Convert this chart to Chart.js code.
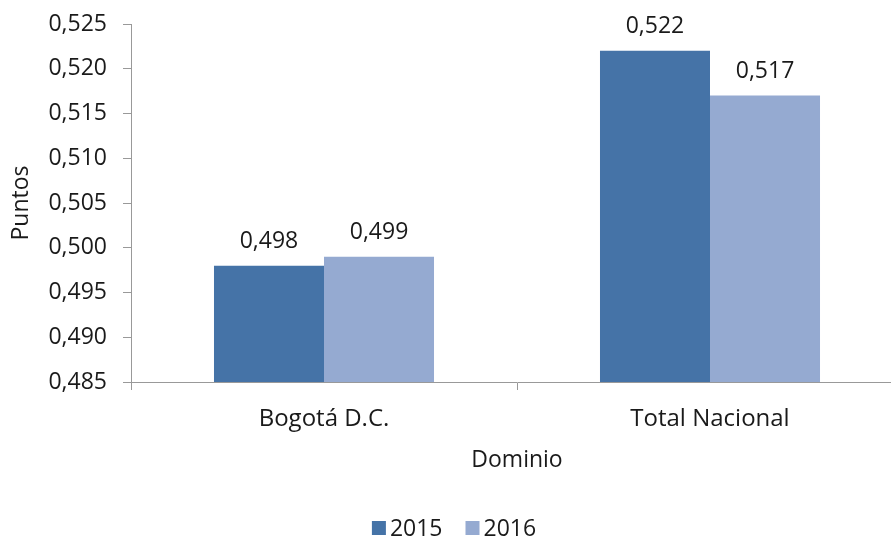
<!DOCTYPE html>
<html>
<head>
<meta charset="utf-8">
<script src="https://cdn.jsdelivr.net/npm/chart.js@4/dist/chart.umd.min.js"></script>
<style>
  html, body { margin: 0; padding: 0; background: #fff; overflow: hidden; }
  #wrap { width: 905px; height: 540px; }
</style>
</head>
<body>
<div id="wrap"><canvas id="chart"></canvas></div>
<script>
const categories = ["Bogotá D.C.", "Total Nacional"];
const seriesNames = ["2015", "2016"];
const values2015 = [0.498, 0.522];
const values2016 = [0.499, 0.517];
const colors = ["#4573a7", "#95aad1"];

const fmt = (v) => v.toFixed(3).replace(".", ",");
const FONT = "23px 'Open Sans'";

// draws the value above every bar
const valueLabels = {
  id: "valueLabels",
  afterDatasetsDraw(chart) {
    const ctx = chart.ctx;
    ctx.save();
    ctx.font = FONT;
    ctx.fillStyle = "#1a1a1a";
    ctx.textAlign = "center";
    ctx.textBaseline = "alphabetic";
    chart.data.datasets.forEach((ds, i) => {
      chart.getDatasetMeta(i).data.forEach((bar, j) => {
        ctx.fillText(fmt(ds.data[j]), bar.x, bar.y - 18);
      });
    });
    ctx.restore();
  },
};

// simple legend at the bottom, boxes close to their text
const bottomLegend = {
  id: "bottomLegend",
  afterDraw(chart) {
    const ctx = chart.ctx;
    ctx.save();
    ctx.font = FONT;
    ctx.textBaseline = "middle";
    ctx.textAlign = "left";
    const box = 14, gapText = 4, gapItem = 23, cy = 528;
    const items = chart.data.datasets.map((ds) => ({
      label: ds.label, color: ds.backgroundColor, w: ctx.measureText(ds.label).width,
    }));
    let total = items.reduce((s, it) => s + box + gapText + it.w, 0) + gapItem * (items.length - 1);
    let x = 454 - total / 2;
    items.forEach((it) => {
      ctx.fillStyle = it.color;
      ctx.fillRect(x, cy - box / 2, box, box);
      ctx.fillStyle = "#1a1a1a";
      ctx.fillText(it.label, x + box + gapText, cy + 1);
      x += box + gapText + it.w + gapItem;
    });
    ctx.restore();
  },
};

Chart.defaults.font.family = "'Open Sans'";
Chart.defaults.font.size = 23;
Chart.defaults.color = "#1a1a1a";

new Chart(document.getElementById("chart"), {
  type: "bar",
  data: {
    labels: categories,
    datasets: [
      { label: seriesNames[0], data: values2015, backgroundColor: colors[0] },
      { label: seriesNames[1], data: values2016, backgroundColor: colors[1] },
    ],
  },
  options: {
    responsive: true,
    maintainAspectRatio: false,
    animation: false,
    layout: { padding: { top: 24, left: 0, right: 2, bottom: 0 } },
    datasets: { bar: { categoryPercentage: 0.57, barPercentage: 1 } },
    plugins: {
      tooltip: { enabled: false },
      legend: { display: false },
    },
    scales: {
      x: {
        grid: { drawOnChartArea: false, color: "#999", tickLength: 8 },
        border: { color: "#999" },
        ticks: { padding: 15, font: { size: 24 } },
        title: { display: true, text: "Dominio", padding: { top: 15, bottom: 66 } },
        afterFit(scale) { scale.height = 158; },
      },
      y: {
        min: 0.485,
        max: 0.525,
        grid: { drawOnChartArea: false, color: "#999", tickLength: 8 },
        border: { color: "#999" },
        ticks: { stepSize: 0.005, padding: 16, callback: (v) => fmt(v) },
        title: { display: true, text: "Puntos", padding: { top: 8, bottom: 0 } },
        afterFit(scale) { scale.width = 131; scale.paddingTop = 0; },
      },
    },
  },
  plugins: [valueLabels, bottomLegend],
});
</script>
</body>
</html>
